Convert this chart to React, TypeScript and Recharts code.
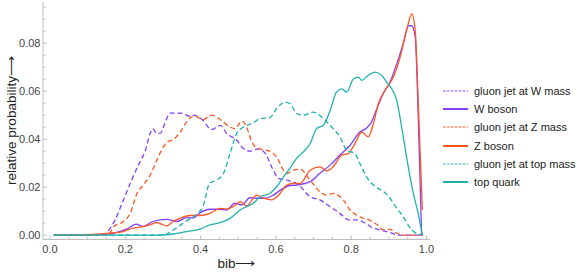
import React from 'react';
import { LineChart, Line, XAxis, YAxis, Legend } from 'recharts';

type Pt = [number, number];

const xMajorTicks = [0, 0.2, 0.4, 0.6, 0.8, 1.0];
const xAllTicks = [0, 0.05, 0.1, 0.15, 0.2, 0.25, 0.3, 0.35, 0.4, 0.45, 0.5, 0.55, 0.6, 0.65, 0.7, 0.75, 0.8, 0.85, 0.9, 0.95, 1.0];
const yMajorTicks = [0, 0.02, 0.04, 0.06, 0.08];
const yAllTicks = [0, 0.005, 0.01, 0.015, 0.02, 0.025, 0.03, 0.035, 0.04, 0.045, 0.05, 0.055, 0.06, 0.065, 0.07, 0.075, 0.08, 0.085, 0.09, 0.095];

const seriesNames = ['gluon jet at W mass', 'W boson', 'gluon jet at Z mass', 'Z boson', 'gluon jet at top mass', 'top quark'];

const gluonW: Pt[] = [
  [0.01, 0], [0.137, 0], [0.173, 0.0064], [0.195, 0.0147], [0.217, 0.023], [0.239, 0.0306], [0.252, 0.0347],
  [0.266, 0.0424], [0.273, 0.0444], [0.284, 0.0424], [0.292, 0.0424], [0.31, 0.0486], [0.319, 0.0509],
  [0.346, 0.0509], [0.372, 0.0496], [0.381, 0.05], [0.406, 0.0479], [0.429, 0.044], [0.452, 0.0458],
  [0.469, 0.0424], [0.496, 0.0396], [0.514, 0.0361], [0.531, 0.035], [0.554, 0.036], [0.572, 0.034],
  [0.593, 0.0271], [0.607, 0.0237], [0.629, 0.023], [0.66, 0.021], [0.691, 0.016], [0.717, 0.0147],
  [0.744, 0.0119], [0.77, 0.0091], [0.793, 0.0064], [0.814, 0.0064], [0.837, 0.005], [0.859, 0.0029],
  [0.876, 0.0022], [0.9, 0.0012], [0.93, 0], [0.99, 0],
];

const wBoson: Pt[] = [
  [0.01, 0], [0.12, 0.0002], [0.168, 0.0008], [0.203, 0.0025], [0.229, 0.0046], [0.247, 0.0036], [0.272, 0.0056],
  [0.31, 0.0066], [0.337, 0.0057], [0.363, 0.0073], [0.381, 0.0072], [0.398, 0.0093], [0.425, 0.0108],
  [0.452, 0.0108], [0.469, 0.0105], [0.491, 0.0133], [0.509, 0.0126], [0.531, 0.0156], [0.549, 0.0154],
  [0.571, 0.0154], [0.593, 0.0167], [0.615, 0.0191], [0.637, 0.0207], [0.655, 0.0209], [0.691, 0.0223],
  [0.717, 0.0258], [0.744, 0.0292], [0.77, 0.0334], [0.797, 0.0375], [0.823, 0.043], [0.841, 0.0447],
  [0.854, 0.0472], [0.868, 0.0527], [0.885, 0.059], [0.903, 0.0638], [0.921, 0.0714], [0.938, 0.0797],
  [0.952, 0.0873], [0.961, 0.0873], [0.97, 0.0825], [0.978, 0.05], [0.987, 0],
];

const gluonZ: Pt[] = [
  [0.01, 0], [0.154, 0], [0.169, 0.0036], [0.195, 0.0057], [0.213, 0.0091], [0.231, 0.0174], [0.248, 0.0209],
  [0.266, 0.025], [0.284, 0.0313], [0.296, 0.0354], [0.312, 0.0389], [0.328, 0.0399], [0.346, 0.043],
  [0.363, 0.0472], [0.381, 0.0497], [0.407, 0.0482], [0.429, 0.05], [0.452, 0.0482], [0.478, 0.0451],
  [0.491, 0.0444], [0.51, 0.0476], [0.522, 0.0451], [0.536, 0.0389], [0.554, 0.0361], [0.576, 0.0354],
  [0.602, 0.0326], [0.62, 0.0271], [0.629, 0.0257], [0.646, 0.0271], [0.664, 0.0275], [0.691, 0.023],
  [0.717, 0.0181], [0.735, 0.0167], [0.752, 0.0174], [0.779, 0.0147], [0.797, 0.0105], [0.823, 0.0077],
  [0.85, 0.0062], [0.87, 0.0042], [0.885, 0.0022], [0.903, 0.0024], [0.921, 0.0008], [0.94, 0], [0.99, 0],
];

const zBoson: Pt[] = [
  [0.01, 0], [0.11, 0.0003], [0.159, 0.0008], [0.194, 0.0015], [0.22, 0.0029], [0.243, 0.0035], [0.266, 0.0043],
  [0.283, 0.0052], [0.301, 0.0043], [0.31, 0.0039], [0.327, 0.0057], [0.345, 0.007], [0.372, 0.0082],
  [0.398, 0.0082], [0.425, 0.0091], [0.452, 0.0112], [0.469, 0.0109], [0.487, 0.0119], [0.505, 0.014],
  [0.522, 0.0122], [0.549, 0.0167], [0.567, 0.0154], [0.589, 0.0147], [0.611, 0.0174], [0.629, 0.0209],
  [0.646, 0.0216], [0.664, 0.0215], [0.691, 0.0271], [0.717, 0.0285], [0.735, 0.0268], [0.752, 0.0285],
  [0.775, 0.0334], [0.792, 0.034], [0.81, 0.0382], [0.828, 0.043], [0.845, 0.041], [0.859, 0.0465],
  [0.872, 0.0548], [0.89, 0.0604], [0.912, 0.0659], [0.93, 0.0742], [0.947, 0.0853], [0.961, 0.0922],
  [0.97, 0.0853], [0.978, 0.0562], [0.989, 0.0105],
];

const gluonTop: Pt[] = [
  [0.01, 0], [0.301, 0], [0.328, 0.0022], [0.363, 0.006], [0.39, 0.0088], [0.406, 0.0119], [0.424, 0.0216],
  [0.443, 0.023], [0.461, 0.0258], [0.478, 0.034], [0.496, 0.0424], [0.514, 0.0451], [0.54, 0.0468],
  [0.558, 0.0486], [0.584, 0.049], [0.602, 0.0528], [0.625, 0.0555], [0.638, 0.0548], [0.655, 0.0507],
  [0.673, 0.05], [0.699, 0.0513], [0.726, 0.0486], [0.752, 0.0444], [0.77, 0.041], [0.788, 0.0354],
  [0.81, 0.034], [0.823, 0.0299], [0.841, 0.0243], [0.864, 0.0202], [0.885, 0.0183], [0.903, 0.0155],
  [0.912, 0.0133], [0.938, 0.0077], [0.961, 0.0022], [0.99, 0],
];

const topQuark: Pt[] = [
  [0.01, 0], [0.283, 0], [0.327, 0.0005], [0.363, 0.0015], [0.398, 0.0025], [0.425, 0.0043], [0.452, 0.0052],
  [0.478, 0.007], [0.505, 0.0105], [0.522, 0.0119], [0.54, 0.0133], [0.558, 0.016], [0.584, 0.0174],
  [0.602, 0.0202], [0.62, 0.0243], [0.637, 0.0278], [0.655, 0.032], [0.668, 0.034], [0.691, 0.0382],
  [0.708, 0.0444], [0.726, 0.0458], [0.744, 0.052], [0.761, 0.0596], [0.775, 0.061], [0.788, 0.0596],
  [0.806, 0.0652], [0.819, 0.0659], [0.828, 0.0645], [0.845, 0.0666], [0.863, 0.068], [0.881, 0.0666],
  [0.894, 0.0638], [0.903, 0.062], [0.921, 0.0562], [0.934, 0.0451], [0.947, 0.0326], [0.965, 0.0174],
  [0.978, 0.0091], [0.989, 0],
];

const PURPLE = '#8040ff';
const ORANGE = '#ff5522';
const TEAL = '#1fb0b0';
const FRAME = '#bdbdbd';
const FONT = '"Liberation Sans", Arial, sans-serif';

const seriesList = [
  { name: seriesNames[0], data: gluonW, color: PURPLE, dashed: true },
  { name: seriesNames[1], data: wBoson, color: PURPLE, dashed: false },
  { name: seriesNames[2], data: gluonZ, color: ORANGE, dashed: true },
  { name: seriesNames[3], data: zBoson, color: ORANGE, dashed: false },
  { name: seriesNames[4], data: gluonTop, color: TEAL, dashed: true },
  { name: seriesNames[5], data: topQuark, color: TEAL, dashed: false },
];

const toRows = (pts: Pt[]) => pts.map(([x, y]) => ({ x, y }));

const isMajor = (v: number, majors: number[]) => majors.some((m) => Math.abs(m - v) < 1e-9);

const TM_B = 10;
const TM_L = 2.5;

const BottomTick = (props: any) => {
  const { x, y, payload } = props;
  const v = payload.value;
  const major = isMajor(v, xMajorTicks);
  const ay = y - TM_B;
  return (
    <g>
      <line x1={x} x2={x} y1={ay} y2={ay - (major ? 4 : 2.5)} stroke={FRAME} strokeWidth={1} />
      {major && (
        <text x={x} y={y} dy="0.36em" textAnchor="middle" fontSize={11} fill="#444" fontFamily={FONT}>
          {v.toFixed(1)}
        </text>
      )}
    </g>
  );
};

const TopTick = (props: any) => {
  const { x, y, payload } = props;
  const major = isMajor(payload.value, xMajorTicks);
  const ay = y + TM_B;
  return <line x1={x} x2={x} y1={ay} y2={ay + (major ? 4 : 2.5)} stroke={FRAME} strokeWidth={1} />;
};

const LeftTick = (props: any) => {
  const { x, y, payload } = props;
  const v = payload.value;
  const major = isMajor(v, yMajorTicks);
  const ax = x + TM_L;
  return (
    <g>
      <line x1={ax} x2={ax + (major ? 4 : 2.5)} y1={y} y2={y} stroke={FRAME} strokeWidth={1} />
      {major && (
        <text x={x} y={y} dy="0.36em" textAnchor="end" fontSize={11} fill="#444" fontFamily={FONT}>
          {v.toFixed(2)}
        </text>
      )}
    </g>
  );
};

const RightTick = (props: any) => {
  const { x, y, payload } = props;
  const major = isMajor(payload.value, yMajorTicks);
  const ax = x - TM_L;
  return <line x1={ax} x2={ax - (major ? 4 : 2.5)} y1={y} y2={y} stroke={FRAME} strokeWidth={1} />;
};

const YLabel = (props: any) => {
  const vb = props.viewBox || {};
  const cx = (vb.x || 0) + 11;
  const cy = (vb.y || 0) + (vb.height || 0) / 2;
  return (
    <text
      transform={`translate(${cx},${cy}) rotate(-90)`}
      textAnchor="middle"
      dominantBaseline="central"
      fontSize={13.5}
      fill="#222"
      fontFamily={FONT}
    >
      relative probability⟶
    </text>
  );
};

const XLabel = (props: any) => {
  const vb = props.viewBox || {};
  const cx = (vb.x || 0) + (vb.width || 0) / 2;
  const by = (vb.y || 0) + (vb.height || 0) - 6;
  return (
    <text x={cx} y={by} textAnchor="middle" fontSize={13.5} fill="#222" fontFamily={FONT}>
      bib⟶
    </text>
  );
};

const LegendContent = () => (
  <div style={{ fontFamily: FONT, fontSize: 11, color: '#222' }}>
    {seriesList.map((s) => (
      <div key={s.name} style={{ display: 'flex', alignItems: 'center', height: 18.33, whiteSpace: 'nowrap' }}>
        <svg width={25} height={10} style={{ marginRight: 6, flex: 'none' }}>
          <line
            x1={0}
            x2={25}
            y1={5}
            y2={5}
            stroke={s.color}
            strokeWidth={s.dashed ? 1.2 : 2}
            strokeDasharray={s.dashed ? '2.5 1.5' : undefined}
          />
        </svg>
        <span>{s.name}</span>
      </div>
    ))}
  </div>
);

export default function App() {
  return (
    <div style={{ position: 'absolute', left: 0, top: 0, width: 581, height: 274, background: '#fff' }}>
      <LineChart width={581} height={274} margin={{ top: 1.5, right: 151, bottom: 0, left: 0 }}>
        <XAxis
          xAxisId="b"
          type="number"
          dataKey="x"
          domain={[-0.0186, 1.0093]}
          allowDataOverflow
          ticks={xAllTicks}
          interval={0}
          tick={BottomTick}
          tickLine={false}
          tickSize={0}
          tickMargin={TM_B}
          height={34.5}
          axisLine={{ stroke: FRAME }}
          label={<XLabel />}
        />
        <XAxis
          xAxisId="t"
          orientation="top"
          type="number"
          dataKey="x"
          domain={[-0.0186, 1.0093]}
          allowDataOverflow
          ticks={xAllTicks}
          interval={0}
          tick={TopTick}
          tickLine={false}
          tickSize={0}
          tickMargin={TM_B}
          height={0}
          axisLine={{ stroke: FRAME }}
        />
        <YAxis
          yAxisId="l"
          type="number"
          dataKey="y"
          domain={[-0.0018, 0.0974]}
          allowDataOverflow
          ticks={yAllTicks}
          interval={0}
          tick={LeftTick}
          tickLine={false}
          tickSize={0}
          tickMargin={TM_L}
          width={43}
          axisLine={{ stroke: FRAME }}
          label={<YLabel />}
        />
        <YAxis
          yAxisId="r"
          orientation="right"
          type="number"
          dataKey="y"
          domain={[-0.0018, 0.0974]}
          allowDataOverflow
          ticks={yAllTicks}
          interval={0}
          tick={RightTick}
          tickLine={false}
          tickSize={0}
          tickMargin={TM_L}
          width={0}
          axisLine={{ stroke: FRAME }}
        />
        {seriesList.map((s) => (
          <Line
            key={s.name}
            xAxisId="b"
            yAxisId="l"
            data={toRows(s.data)}
            dataKey="y"
            name={s.name}
            type="monotone"
            stroke={s.color}
            strokeWidth={1.3}
            strokeDasharray={s.dashed ? '5 3' : undefined}
            dot={false}
            activeDot={false}
            isAnimationActive={false}
          />
        ))}
        <Legend
          layout="vertical"
          align="center"
          verticalAlign="middle"
          content={LegendContent}
          wrapperStyle={{ position: 'absolute', left: 443, top: 81.5, width: 138 }}
        />
      </LineChart>
    </div>
  );
}
